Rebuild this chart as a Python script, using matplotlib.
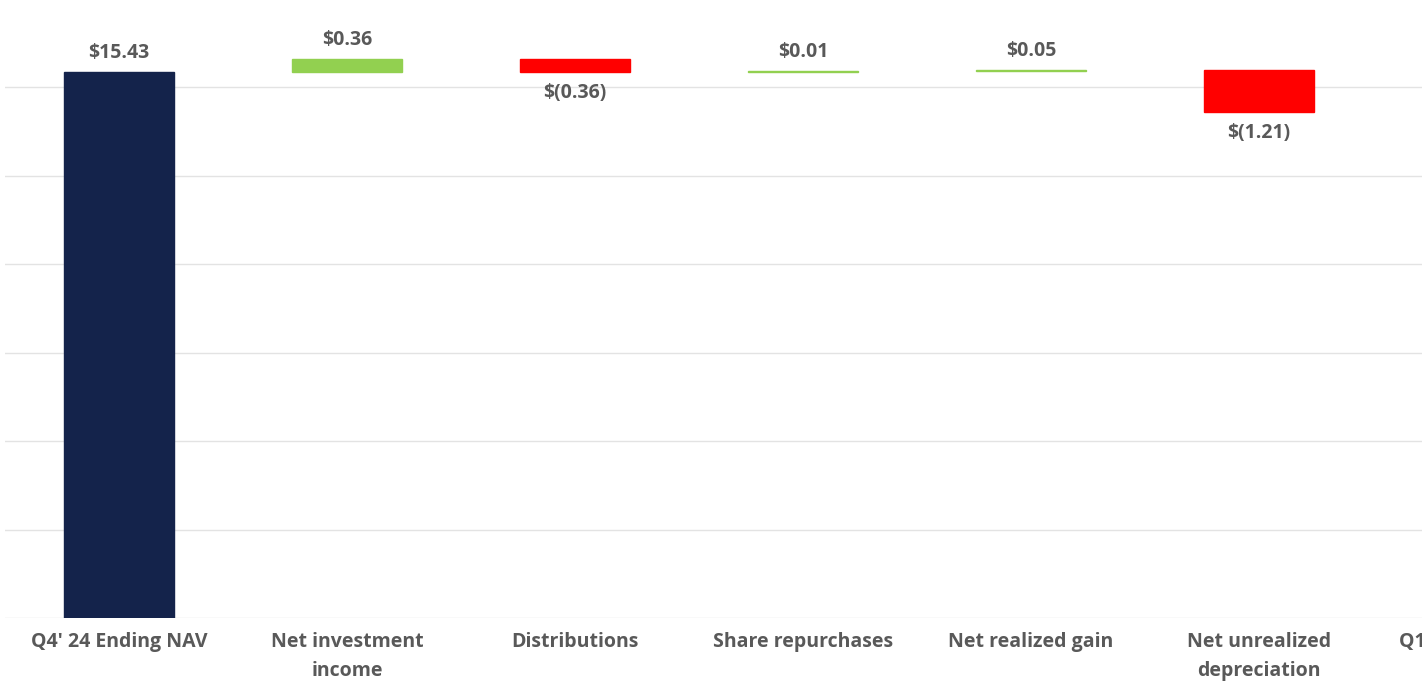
import numpy as np
import matplotlib.pyplot as plt

categories = ["Q4' 24 Ending NAV", "Net investment\nincome", "Distributions",
              "Share repurchases", "Net realized gain", "Net unrealized\ndepreciation",
              "Q1' 25 Ending NAV"]
start_nav = 15.43
changes = [0.36, -0.36, 0.01, 0.05, -1.21]
end_nav = 14.28
labels = ["$15.43", "$0.36", "$(0.36)", "$0.01", "$0.05", "$(1.21)", "$14.28"]

navy = '#14234b'
green = '#92d050'
red = '#ff0000'
txt = '#595959'

plt.rcParams['font.family'] = ['Open Sans', 'DejaVu Sans']

fig = plt.figure(figsize=(14.22, 6.81), dpi=100)
# axes runs off the right edge, so the last bar is cut like the original
ax = fig.add_axes([5 / 1422, 63 / 681, 1596 / 1422, 619.5 / 681])

x = np.arange(len(categories))
bottoms, heights, colors = [0], [start_nav], [navy]
level = start_nav
for c in changes:
    lo = min(level, level + c)
    bottoms.append(lo)
    heights.append(abs(c))
    colors.append(green if c > 0 else red)
    level += c
bottoms.append(0)
heights.append(end_nav)
colors.append(navy)

ax.bar(x, heights, bottom=bottoms, width=0.48, color=colors,
       edgecolor=colors, linewidth=1.0, zorder=3)

vals = [start_nav] + changes + [end_nav]
for i, (b, h, v, s) in enumerate(zip(bottoms, heights, vals, labels)):
    if v >= 0:
        ax.annotate(s, (i, b + h), xytext=(0, 9), textcoords='offset pixels',
                    ha='center', va='bottom', fontsize=14, fontweight='bold', color=txt)
    else:
        ax.annotate(s, (i, b), xytext=(0, -11), textcoords='offset pixels',
                    ha='center', va='top', fontsize=14, fontweight='bold', color=txt)

ax.set_xlim(-0.5, len(categories) - 0.5)
ax.set_ylim(0, 17.5)
ax.set_yticks(np.arange(0, 17.6, 2.5))
ax.set_yticklabels([])
ax.grid(axis='y', color='#e3e3e3', linewidth=1.0, zorder=0)
ax.set_xticks(x)
ax.set_xticklabels(categories, fontsize=14, fontweight='bold', color=txt, linespacing=1.6)
ax.tick_params(length=0, pad=10)
for sp in ax.spines.values():
    sp.set_visible(False)

fig.savefig('out.png', dpi=100)
